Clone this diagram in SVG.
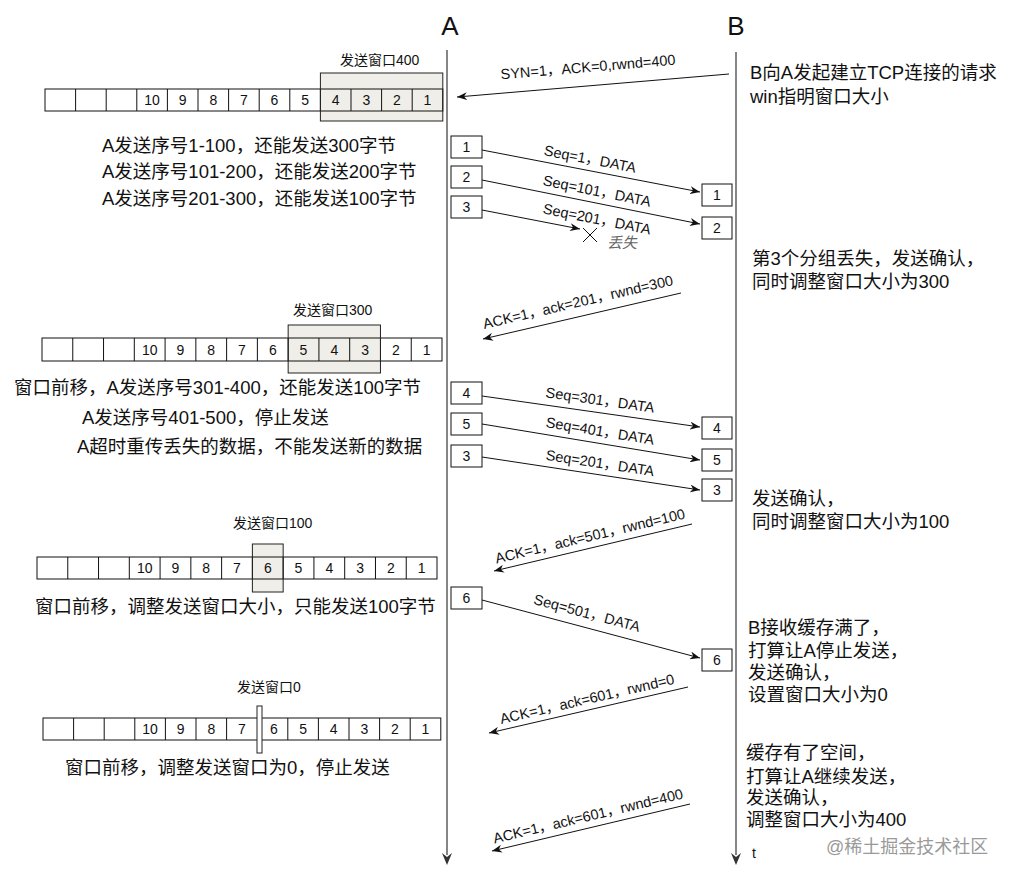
<svg xmlns="http://www.w3.org/2000/svg" width="1014" height="880" viewBox="0 0 1014 880">
<style>
text{font-family:"Liberation Sans","Noto Sans CJK SC",sans-serif;fill:#111}
.big{font-size:26px}
.t{font-size:18.5px}
.w{font-size:14px}
.n{font-size:14px;text-anchor:middle}
.lbl{font-size:14.5px;text-anchor:middle}
.cell{fill:none;stroke:#111;stroke-width:1}
.win{fill:#efeee8;stroke:none}
.wb{fill:none;stroke:#222;stroke-width:1}
.box{fill:#fff;stroke:#111;stroke-width:1}
.life{stroke:#444;stroke-width:1.3;fill:none}
.msg{stroke:#111;stroke-width:1;fill:none}
</style>
<defs>
<marker id="ah" viewBox="0 0 10 8" refX="10" refY="4" markerWidth="10" markerHeight="8" orient="auto" markerUnits="userSpaceOnUse"><path d="M0,0 L10,4 L0,8 L3,4 z" fill="#111"/></marker>
</defs>
<rect width="1014" height="880" fill="#fff"/>

<g id="lifeline-A">
<text class="big" x="450" y="35" text-anchor="middle">A</text>
<line class="life" x1="447" y1="50" x2="447" y2="855"/>
<path d="M442,853 L447,865 L452,853 L447,857 z" fill="#333"/>
</g>
<g id="lifeline-B">
<text class="big" x="736" y="35" text-anchor="middle">B</text>
<line class="life" x1="736" y1="52" x2="736" y2="855"/>
<path d="M731,853 L736,865 L741,853 L736,857 z" fill="#333"/>
<text x="752" y="858" font-size="14">t</text>
</g>

<g id="window-400">
<rect class="win" x="320.4" y="73" width="122.4" height="48"/>
<rect class="cell" x="45" y="89" width="397.8" height="22"/>
<path class="cell" d="M75.6,89v22M106.2,89v22M136.8,89v22M167.4,89v22M198,89v22M228.6,89v22M259.2,89v22M289.8,89v22M320.4,89v22M351,89v22M381.6,89v22M412.2,89v22"/>
<rect class="wb" x="320.4" y="73" width="122.4" height="48"/>
<text class="n" x="152.1" y="105">10</text><text class="n" x="182.7" y="105">9</text><text class="n" x="213.3" y="105">8</text><text class="n" x="243.9" y="105">7</text><text class="n" x="274.5" y="105">6</text><text class="n" x="305.1" y="105">5</text><text class="n" x="335.7" y="105">4</text><text class="n" x="366.3" y="105">3</text><text class="n" x="396.9" y="105">2</text><text class="n" x="427.5" y="105">1</text>
<text class="w" x="340" y="65">发送窗口400</text>
</g>
<g id="text-row1">
<text class="t" x="102" y="152">A发送序号1-100，还能发送300字节</text>
<text class="t" x="102" y="178">A发送序号101-200，还能发送200字节</text>
<text class="t" x="102" y="205">A发送序号201-300，还能发送100字节</text>
</g>

<g id="window-300">
<rect class="win" x="288.16" y="325" width="92.3" height="48"/>
<rect class="cell" x="42" y="338" width="400" height="23"/>
<path class="cell" d="M72.77,338v23M103.54,338v23M134.31,338v23M165.08,338v23M195.85,338v23M226.62,338v23M257.39,338v23M288.16,338v23M318.93,338v23M349.7,338v23M380.47,338v23M411.24,338v23"/>
<rect class="wb" x="288.16" y="325" width="92.3" height="48"/>
<text class="n" x="149.7" y="354.5">10</text><text class="n" x="180.5" y="354.5">9</text><text class="n" x="211.2" y="354.5">8</text><text class="n" x="242" y="354.5">7</text><text class="n" x="272.8" y="354.5">6</text><text class="n" x="303.5" y="354.5">5</text><text class="n" x="334.3" y="354.5">4</text><text class="n" x="365.1" y="354.5">3</text><text class="n" x="395.9" y="354.5">2</text><text class="n" x="426.6" y="354.5">1</text>
<text class="w" x="293" y="315">发送窗口300</text>
</g>
<g id="text-row2">
<text class="t" x="14" y="394">窗口前移，A发送序号301-400，还能发送100字节</text>
<text class="t" x="82" y="424">A发送序号401-500，停止发送</text>
<text class="t" x="77" y="453">A超时重传丢失的数据，不能发送新的数据</text>
</g>

<g id="window-100">
<rect class="win" x="252.39" y="544" width="30.77" height="48"/>
<rect class="cell" x="37" y="557" width="400" height="22"/>
<path class="cell" d="M67.77,557v22M98.54,557v22M129.31,557v22M160.08,557v22M190.85,557v22M221.62,557v22M252.39,557v22M283.16,557v22M313.93,557v22M344.7,557v22M375.47,557v22M406.24,557v22"/>
<rect class="wb" x="252.39" y="544" width="30.77" height="48"/>
<text class="n" x="144.7" y="573">10</text><text class="n" x="175.5" y="573">9</text><text class="n" x="206.2" y="573">8</text><text class="n" x="237" y="573">7</text><text class="n" x="267.8" y="573">6</text><text class="n" x="298.5" y="573">5</text><text class="n" x="329.3" y="573">4</text><text class="n" x="360.1" y="573">3</text><text class="n" x="390.9" y="573">2</text><text class="n" x="421.6" y="573">1</text>
<text class="w" x="233" y="528">发送窗口100</text>
</g>
<g id="text-row3">
<text class="t" x="35" y="613">窗口前移，调整发送窗口大小，只能发送100字节</text>
</g>

<g id="window-0">
<rect class="cell" x="43" y="718" width="397.8" height="22"/>
<path class="cell" d="M73.6,718v22M104.2,718v22M134.8,718v22M165.4,718v22M196,718v22M226.6,718v22M287.8,718v22M318.4,718v22M349,718v22M379.6,718v22M410.2,718v22"/>
<rect x="257" y="706" width="5" height="47" fill="#fff" stroke="#222" stroke-width="1"/>
<text class="n" x="150.1" y="734">10</text><text class="n" x="180.7" y="734">9</text><text class="n" x="211.3" y="734">8</text><text class="n" x="241.9" y="734">7</text><text class="n" x="274" y="734">6</text><text class="n" x="303.1" y="734">5</text><text class="n" x="333.7" y="734">4</text><text class="n" x="364.3" y="734">3</text><text class="n" x="394.9" y="734">2</text><text class="n" x="425.5" y="734">1</text>
<text class="w" x="237" y="692">发送窗口0</text>
</g>
<g id="text-row4">
<text class="t" x="65" y="774">窗口前移，调整发送窗口为0，停止发送</text>
</g>

<g id="a-seg-1"><rect class="box" x="451" y="136" width="31" height="22"/><text class="n" x="466.5" y="152">1</text></g>
<g id="a-seg-2"><rect class="box" x="451" y="166" width="31" height="22"/><text class="n" x="466.5" y="182">2</text></g>
<g id="a-seg-3"><rect class="box" x="451" y="196" width="31" height="22"/><text class="n" x="466.5" y="212">3</text></g>
<g id="a-seg-4"><rect class="box" x="451" y="382" width="31" height="22"/><text class="n" x="466.5" y="398">4</text></g>
<g id="a-seg-5"><rect class="box" x="451" y="413" width="31" height="22"/><text class="n" x="466.5" y="429">5</text></g>
<g id="a-seg-3b"><rect class="box" x="451" y="445" width="31" height="22"/><text class="n" x="466.5" y="461">3</text></g>
<g id="a-seg-6"><rect class="box" x="451" y="587" width="31" height="22"/><text class="n" x="466.5" y="603">6</text></g>

<g id="b-seg-1"><rect class="box" x="702" y="184" width="30" height="22"/><text class="n" x="717" y="200">1</text></g>
<g id="b-seg-2"><rect class="box" x="702" y="217" width="30" height="22"/><text class="n" x="717" y="233">2</text></g>
<g id="b-seg-4"><rect class="box" x="702" y="417" width="30" height="22"/><text class="n" x="717" y="433">4</text></g>
<g id="b-seg-5"><rect class="box" x="702" y="449" width="30" height="22"/><text class="n" x="717" y="465">5</text></g>
<g id="b-seg-3"><rect class="box" x="702" y="479" width="30" height="22"/><text class="n" x="717" y="495">3</text></g>
<g id="b-seg-6"><rect class="box" x="702" y="649" width="30" height="22"/><text class="n" x="717" y="665">6</text></g>

<g id="notes-B">
<text class="t" x="750" y="79">B向A发起建立TCP连接的请求</text>
<text class="t" x="750" y="103">win指明窗口大小</text>
<text class="t" x="752" y="265">第3个分组丢失，发送确认，</text>
<text class="t" x="752" y="288">同时调整窗口大小为300</text>
<text class="t" x="752" y="505">发送确认，</text>
<text class="t" x="752" y="528">同时调整窗口大小为100</text>
<text class="t" x="748" y="634">B接收缓存满了，</text>
<text class="t" x="748" y="657">打算让A停止发送，</text>
<text class="t" x="748" y="679">发送确认，</text>
<text class="t" x="748" y="701">设置窗口大小为0</text>
<text class="t" x="746" y="759">缓存有了空间，</text>
<text class="t" x="746" y="783">打算让A继续发送，</text>
<text class="t" x="746" y="804">发送确认，</text>
<text class="t" x="746" y="826">调整窗口大小为400</text>
</g>

<g id="connectors">
<line class="msg" x1="729" y1="74" x2="457" y2="97" marker-end="url(#ah)"/>
<line class="msg" x1="482" y1="150" x2="700" y2="192" marker-end="url(#ah)"/>
<line class="msg" x1="482" y1="180" x2="700" y2="224" marker-end="url(#ah)"/>
<line class="msg" x1="482" y1="210" x2="580" y2="229" marker-end="url(#ah)"/>
<path d="M583,228 L597,242 M597,228 L583,242" stroke="#111" stroke-width="1" fill="none"/>
<line class="msg" x1="681" y1="293" x2="483" y2="339" marker-end="url(#ah)"/>
<line class="msg" x1="482" y1="396" x2="700" y2="427" marker-end="url(#ah)"/>
<line class="msg" x1="482" y1="424" x2="700" y2="460" marker-end="url(#ah)"/>
<line class="msg" x1="482" y1="457" x2="700" y2="490" marker-end="url(#ah)"/>
<line class="msg" x1="692" y1="524" x2="494" y2="571" marker-end="url(#ah)"/>
<line class="msg" x1="482" y1="600" x2="700" y2="658" marker-end="url(#ah)"/>
<line class="msg" x1="688" y1="687" x2="489" y2="733" marker-end="url(#ah)"/>
<line class="msg" x1="690" y1="804" x2="492" y2="851" marker-end="url(#ah)"/>

<text class="lbl" transform="translate(588,67) rotate(-4.8)" y="5">SYN=1，ACK=0,rwnd=400</text>
<text class="lbl" transform="translate(590,159) rotate(10.9)" y="5">Seq=1，DATA</text>
<text class="lbl" transform="translate(597,191) rotate(11.4)" y="5">Seq=101，DATA</text>
<text class="lbl" transform="translate(597,219) rotate(11.2)" y="5">Seq=201，DATA</text>
<text x="607" y="248" font-size="15" font-style="italic" style="fill:#666">丢失</text>
<text class="lbl" transform="translate(578,302) rotate(-13.1)" y="5">ACK=1，ack=201，rwnd=300</text>
<text class="lbl" transform="translate(600,400) rotate(8.1)" y="5">Seq=301，DATA</text>
<text class="lbl" transform="translate(600,431) rotate(9.4)" y="5">Seq=401，DATA</text>
<text class="lbl" transform="translate(600,463) rotate(8.6)" y="5">Seq=201，DATA</text>
<text class="lbl" transform="translate(590,536) rotate(-13.4)" y="5">ACK=1，ack=501，rwnd=100</text>
<text class="lbl" transform="translate(587,613) rotate(14.9)" y="5">Seq=501，DATA</text>
<text class="lbl" transform="translate(587,699) rotate(-13)" y="5">ACK=1，ack=601，rwnd=0</text>
<text class="lbl" transform="translate(588,816) rotate(-13.4)" y="5">ACK=1，ack=601，rwnd=400</text>
</g>

<g id="watermark">
<text x="826" y="853" font-size="18" style="fill:#9a9a9a">@稀土掘金技术社区</text>
</g>
</svg>
